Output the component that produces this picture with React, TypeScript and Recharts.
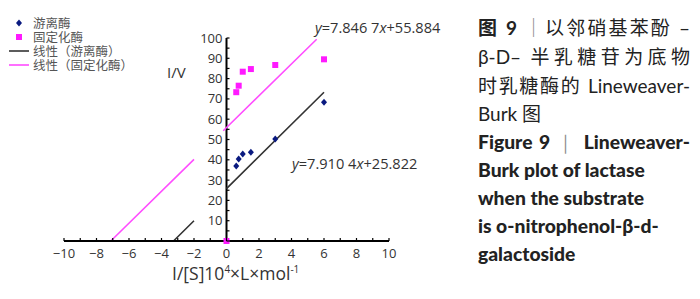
import React from 'react';
import {
  ComposedChart,
  XAxis,
  YAxis,
  Scatter,
  Line,
  ReferenceLine,
} from 'recharts';

// 1/[S] values (x) and 1/V readings for the two enzymes
const substrateX = [0.6, 0.75, 1.0, 1.5, 3.0, 6.0];
const freeEnzymeY = [36.9, 40.4, 42.9, 43.7, 50.2, 68.3];
const immobEnzymeY = [73.3, 76.5, 83.4, 84.7, 86.7, 89.5];

// trendline end points as drawn (gap where the line is broken)
const freeFitX = [-3.26, -2, -1, 0, 6.0];
const freeFitY = [0, 10.0, null, 25.8, 73.3];
const immobFitX = [-7.12, -2, -1, -0.2, 5.55];
const immobFitY = [0, 40.2, null, 54.3, 99.4];

const xTicks = [-10, -9, -8, -7, -6, -5, -4, -3, -2, -1, 0, 1, 2, 3, 4, 5, 6, 7, 8, 9, 10];
const yTicks = [0, 5, 10, 15, 20, 25, 30, 35, 40, 45, 50, 55, 60, 65, 70, 75, 80, 85, 90, 95, 100];

const freePoints = substrateX.map((x, i) => ({ x, y: freeEnzymeY[i] }));
const immobPoints = [{ x: 0, y: 0 }, ...substrateX.map((x, i) => ({ x, y: immobEnzymeY[i] }))];
const freeFit = freeFitX.map((x, i) => ({ x, y: freeFitY[i] }));
const immobFit = immobFitX.map((x, i) => ({ x, y: immobFitY[i] }));

const CHART_W = 450;
const CHART_H = 299;
const margin = { top: 38, right: 61, left: 63, bottom: 28 };
const X_AXIS_H = 30;
const Y_AXIS_W = 1;
const plotLeft = margin.left + Y_AXIS_W;
const plotW = CHART_W - plotLeft - margin.right;
const AXIS_Y = CHART_H - margin.bottom - X_AXIS_H;
const Y_AXIS_X = plotLeft + plotW / 2; // x = 0 sits in the middle

const tickFont = { fontFamily: 'Open Sans', fontSize: 13, fill: '#333' };

const fmt = (v: number) => (v < 0 ? `\u2212${-v}` : `${v}`);

const XTick = ({ x, payload }: any) => {
  const v = payload.value;
  return (
    <g>
      <line x1={x} x2={x} y1={AXIS_Y} y2={AXIS_Y - 3} stroke="#000" strokeWidth={1.2} />
      {v % 2 === 0 && (
        <text x={x} y={AXIS_Y + 17} textAnchor="middle" {...tickFont}>
          {fmt(v)}
        </text>
      )}
    </g>
  );
};

const YTick = ({ y, payload }: any) => {
  const v = payload.value;
  return (
    <g>
      <line x1={Y_AXIS_X} x2={Y_AXIS_X + 3} y1={y} y2={y} stroke="#000" strokeWidth={1.2} />
      {v % 10 === 0 && v !== 0 && (
        <text x={Y_AXIS_X - 4} y={y} dy={4.5} textAnchor="end" {...tickFont}>
          {v}
        </text>
      )}
    </g>
  );
};

const Diamond = ({ cx, cy }: any) => (
  <polygon
    points={`${cx},${cy - 3.5} ${cx + 3},${cy} ${cx},${cy + 3.5} ${cx - 3},${cy}`}
    fill="#0a1a80"
  />
);

const Square = ({ cx, cy }: any) => (
  <rect x={cx - 3} y={cy - 3} width={6} height={6} fill="#ff1aff" />
);

const legendItems = [
  { label: '游离酶', kind: 'diamond' },
  { label: '固定化酶', kind: 'square' },
  { label: '线性（游离酶）', kind: 'black' },
  { label: '线性（固定化酶）', kind: 'pink' },
];

const LegendMark = ({ kind }: { kind: string }) => (
  <svg width={22} height={12} style={{ marginRight: 3, flex: 'none' }}>
    {kind === 'diamond' && <polygon points="11,2.5 14,6 11,9.5 8,6" fill="#0a1a80" />}
    {kind === 'square' && <rect x={8} y={3} width={6} height={6} fill="#ff1aff" />}
    {kind === 'black' && <line x1={1} x2={21} y1={6} y2={6} stroke="#333" strokeWidth={1.6} />}
    {kind === 'pink' && <line x1={1} x2={21} y1={6} y2={6} stroke="#ff4dff" strokeWidth={1.6} />}
  </svg>
);

const capBase = {
  position: 'absolute' as const,
  left: 478,
  width: 212,
  height: 26,
  lineHeight: '26px',
  fontSize: 19,
  color: '#222',
  whiteSpace: 'nowrap' as const,
};
const cjkFont = 'Lato, "Noto Sans CJK SC"';
const enBold = { fontFamily: 'Lato', fontWeight: 900, fontSize: 19.3 };

const App = () => {
  return (
    <div
      style={{
        position: 'absolute',
        left: 0,
        top: 0,
        width: 700,
        height: 299,
        background: '#fff',
        overflow: 'hidden',
      }}
    >
      <ComposedChart width={CHART_W} height={CHART_H} margin={margin}>
        <XAxis
          type="number"
          dataKey="x"
          domain={[-10, 10]}
          ticks={xTicks}
          interval={0}
          height={X_AXIS_H}
          axisLine={{ stroke: '#000', strokeWidth: 2 }}
          tickLine={false}
          tick={<XTick />}
        />
        <YAxis
          type="number"
          dataKey="y"
          domain={[0, 100]}
          ticks={yTicks}
          interval={0}
          width={Y_AXIS_W}
          axisLine={false}
          tickLine={false}
          tick={<YTick />}
        />
        <ReferenceLine x={0} stroke="#000" strokeWidth={2} />
        <Line
          data={immobFit}
          dataKey="y"
          stroke="#ff4dff"
          strokeWidth={1.6}
          dot={false}
          isAnimationActive={false}
        />
        <Line
          data={freeFit}
          dataKey="y"
          stroke="#333"
          strokeWidth={1.6}
          dot={false}
          isAnimationActive={false}
        />
        <Scatter data={freePoints} shape={<Diamond />} isAnimationActive={false} />
        <Scatter data={immobPoints} shape={<Square />} isAnimationActive={false} />
      </ComposedChart>

      {/* legend */}
      <div
        style={{
          position: 'absolute',
          left: 8,
          top: 16,
          fontFamily: 'Noto Sans CJK SC',
          fontSize: 12.5,
          color: '#555',
        }}
      >
        {legendItems.map((it) => (
          <div key={it.label} style={{ display: 'flex', alignItems: 'center', height: 14 }}>
            <LegendMark kind={it.kind} />
            <span style={{ lineHeight: '14px' }}>{it.label}</span>
          </div>
        ))}
      </div>

      {/* regression equations */}
      <div
        style={{
          position: 'absolute',
          left: 315,
          top: 17,
          fontFamily: 'Open Sans',
          fontSize: 14.6,
          color: '#333',
          whiteSpace: 'nowrap',
        }}
      >
        <i>y</i>=7.846 7<i>x</i>+55.884
      </div>
      <div
        style={{
          position: 'absolute',
          left: 292,
          top: 153,
          fontFamily: 'Open Sans',
          fontSize: 14.6,
          color: '#333',
          whiteSpace: 'nowrap',
        }}
      >
        <i>y</i>=7.910 4<i>x</i>+25.822
      </div>

      {/* axis titles */}
      <div
        style={{
          position: 'absolute',
          left: 167,
          top: 62,
          fontFamily: 'Open Sans',
          fontSize: 15,
          color: '#333',
        }}
      >
        I/V
      </div>
      <div
        style={{
          position: 'absolute',
          left: 172,
          top: 261,
          fontFamily: 'Open Sans',
          fontSize: 17.5,
          color: '#333',
          whiteSpace: 'nowrap',
        }}
      >
        I/[S]10<sup style={{ fontSize: 10 }}>4</sup>×L×mol<sup style={{ fontSize: 10 }}>-1</sup>
      </div>

      {/* caption */}
      <div style={{ ...capBase, top: 15, fontFamily: cjkFont, textAlignLast: 'justify' }}>
        <b>图 9</b> <span style={{ color: '#888' }}>｜</span>以邻硝基苯酚 –
      </div>
      <div style={{ ...capBase, top: 44, fontFamily: cjkFont, textAlignLast: 'justify' }}>
        β-D– 半乳糖苷为底物
      </div>
      <div style={{ ...capBase, top: 73, fontFamily: cjkFont, textAlignLast: 'justify' }}>
        时乳糖酶的 Lineweaver-
      </div>
      <div style={{ ...capBase, top: 101, fontFamily: cjkFont }}>Burk 图</div>
      <div style={{ ...capBase, ...enBold, top: 129, textAlignLast: 'justify' }}>
        Figure 9 <span style={{ fontWeight: 400, color: '#888' }}>｜</span> Lineweaver-
      </div>
      <div style={{ ...capBase, ...enBold, top: 157 }}>Burk plot of lactase</div>
      <div style={{ ...capBase, ...enBold, top: 185 }}>when the substrate</div>
      <div style={{ ...capBase, ...enBold, top: 213 }}>is o-nitrophenol-β-d-</div>
      <div style={{ ...capBase, ...enBold, top: 241 }}>galactoside</div>
    </div>
  );
};

export default App;
